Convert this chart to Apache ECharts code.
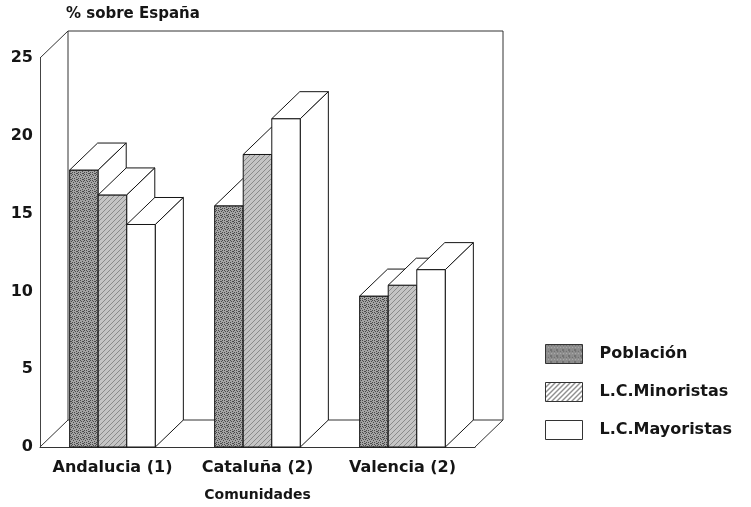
<!DOCTYPE html>
<html>
<head>
<meta charset="utf-8">
<script src="https://cdn.jsdelivr.net/npm/echarts@6/dist/echarts.min.js"></script>
<style>
  html, body { margin: 0; padding: 0; background: #fff; }
  #chart { width: 751px; height: 507px; }
</style>
</head>
<body>
<div id="chart"></div>
<script>
// values (% sobre España)
const categories = ["Andalucia (1)", "Cataluña (2)", "Valencia (2)"];
const poblacion = [17.8, 15.5, 9.7];
const minoristas = [16.2, 18.8, 10.4];
const mayoristas = [14.3, 21.1, 11.4];
const yTicks = [0, 5, 10, 15, 20, 25];
const seriesNames = ["Población", "L.C.Minoristas", "L.C.Mayoristas"];

// 3d look
const DX = 28, DY = -27;
const BAR_RATIO = 0.197;
const FONT = "DejaVu Sans";
const INK = "#151515";

// fill textures
function speckle(base, dot) {
    const c = document.createElement("canvas");
    c.width = c.height = 6;
    const g = c.getContext("2d");
    g.fillStyle = base;
    g.fillRect(0, 0, 6, 6);
    g.fillStyle = dot;
    [[0, 0], [3, 1], [1, 2], [4, 3], [2, 4], [5, 5], [0, 4], [5, 1], [2, 0], [4, 5]]
        .forEach(p => g.fillRect(p[0], p[1], 1, 1));
    return c;
}
function hatch(base, line) {
    const c = document.createElement("canvas");
    c.width = c.height = 5;
    const g = c.getContext("2d");
    g.fillStyle = base;
    g.fillRect(0, 0, 5, 5);
    g.fillStyle = line;
    for (let i = 0; i < 5; i++) g.fillRect(i, 4 - i, 1, 1);
    return c;
}

const fills = [
    { image: speckle("#a4a4a4", "#4a4a4a"), repeat: "repeat" },
    { image: hatch("#c4c4c4", "#8a8a8a"), repeat: "repeat" },
    "#ffffff"
];
const legendFills = [
    { image: speckle("#a8a8a8", "#3c3c3c"), repeat: "repeat" },
    { image: hatch("#ffffff", "#222222"), repeat: "repeat" },
    "#ffffff"
];

function barRenderer(k) {
    return function (params, api) {
        const cat = api.value(0);
        const top = api.coord([cat, api.value(1)]);
        const base = api.coord([cat, 0]);
        const bw = api.size([1, 0])[0] * BAR_RATIO;
        const x0 = top[0] + (k - 1.5) * bw;
        const x1 = x0 + bw;
        const yt = top[1], yb = base[1];
        const stroke = { stroke: INK, lineWidth: 1 };
        return {
            type: "group",
            children: [
                {
                    type: "rect",
                    shape: { x: x0, y: yt, width: bw, height: yb - yt },
                    style: Object.assign({ fill: fills[k] }, stroke)
                },
                {
                    type: "polygon",
                    shape: { points: [[x0, yt], [x1, yt], [x1 + DX, yt + DY], [x0 + DX, yt + DY]] },
                    style: Object.assign({ fill: "#fff" }, stroke)
                },
                {
                    type: "polygon",
                    shape: { points: [[x1, yt], [x1 + DX, yt + DY], [x1 + DX, yb + DY], [x1, yb]] },
                    style: Object.assign({ fill: "#fff" }, stroke)
                }
            ]
        };
    };
}

function frameRenderer(params, api) {
    const cs = params.coordSys;
    const x = cs.x, y = cs.y, w = cs.width, h = cs.height;
    const st = { stroke: "#333", lineWidth: 1, fill: null };
    const line = (a, b, c, d) => ({ type: "line", shape: { x1: a, y1: b, x2: c, y2: d }, style: st });
    return {
        type: "group",
        children: [
            { type: "rect", shape: { x: x + DX, y: y + DY, width: w, height: h }, style: st },
            line(x, y, x + DX, y + DY),
            line(x, y + h, x + DX, y + h + DY),
            line(x + w, y + h, x + w + DX, y + h + DY)
        ]
    };
}

const data = [poblacion, minoristas, mayoristas];

const chart = echarts.init(document.getElementById("chart"));

const option = {
    backgroundColor: "#fff",
    animation: false,
    title: {
        text: "% sobre España",
        left: 61,
        top: 2,
        textStyle: { fontFamily: FONT, fontSize: 15, fontWeight: "bold", color: INK }
    },
    legend: {
        orient: "vertical",
        left: 545,
        top: 344,
        padding: 0,
        itemWidth: 37,
        itemHeight: 19,
        itemGap: 18,
        icon: "rect",
        selectedMode: false,
        textStyle: { fontFamily: FONT, fontSize: 16, fontWeight: "bold", color: INK, padding: [0, 0, 0, 12] },
        data: seriesNames.map((n, i) => ({
            name: n,
            itemStyle: { color: legendFills[i], borderColor: "#333", borderWidth: 1 }
        }))
    },
    grid: {
        left: 40,
        right: 276,
        top: 58,
        bottom: 54
    },
    xAxis: {
        type: "category",
        data: categories,
        name: "Comunidades",
        nameLocation: "middle",
        nameGap: 41,
        nameTextStyle: { fontFamily: FONT, fontSize: 14, fontWeight: "bold", color: INK },
        axisTick: { show: false },
        axisLine: { show: true, lineStyle: { color: "#333", width: 1 } },
        axisLabel: {
            fontFamily: FONT, fontSize: 16, fontWeight: "bold", color: INK, margin: 13,
            interval: 0, hideOverlap: false
        },
        splitLine: { show: false }
    },
    yAxis: {
        type: "value",
        min: yTicks[0],
        max: yTicks[yTicks.length - 1],
        interval: 5,
        axisTick: { show: false },
        axisLine: { show: true, lineStyle: { color: "#444", width: 1 } },
        axisLabel: { fontFamily: FONT, fontSize: 16, fontWeight: "bold", color: INK, margin: 7 },
        splitLine: { show: false }
    },
    series: [
        {
            name: "frame",
            type: "custom",
            clip: false,
            silent: true,
            z: 1,
            renderItem: frameRenderer,
            data: [[0, 0]]
        }
    ].concat(seriesNames.map((n, k) => ({
        name: n,
        type: "custom",
        clip: false,
        z: 2 + k,
        itemStyle: { color: legendFills[k] },
        renderItem: barRenderer(k),
        encode: { x: 0, y: 1 },
        data: data[k].map((v, i) => [i, v])
    })))
};

chart.setOption(option);
</script>
</body>
</html>
